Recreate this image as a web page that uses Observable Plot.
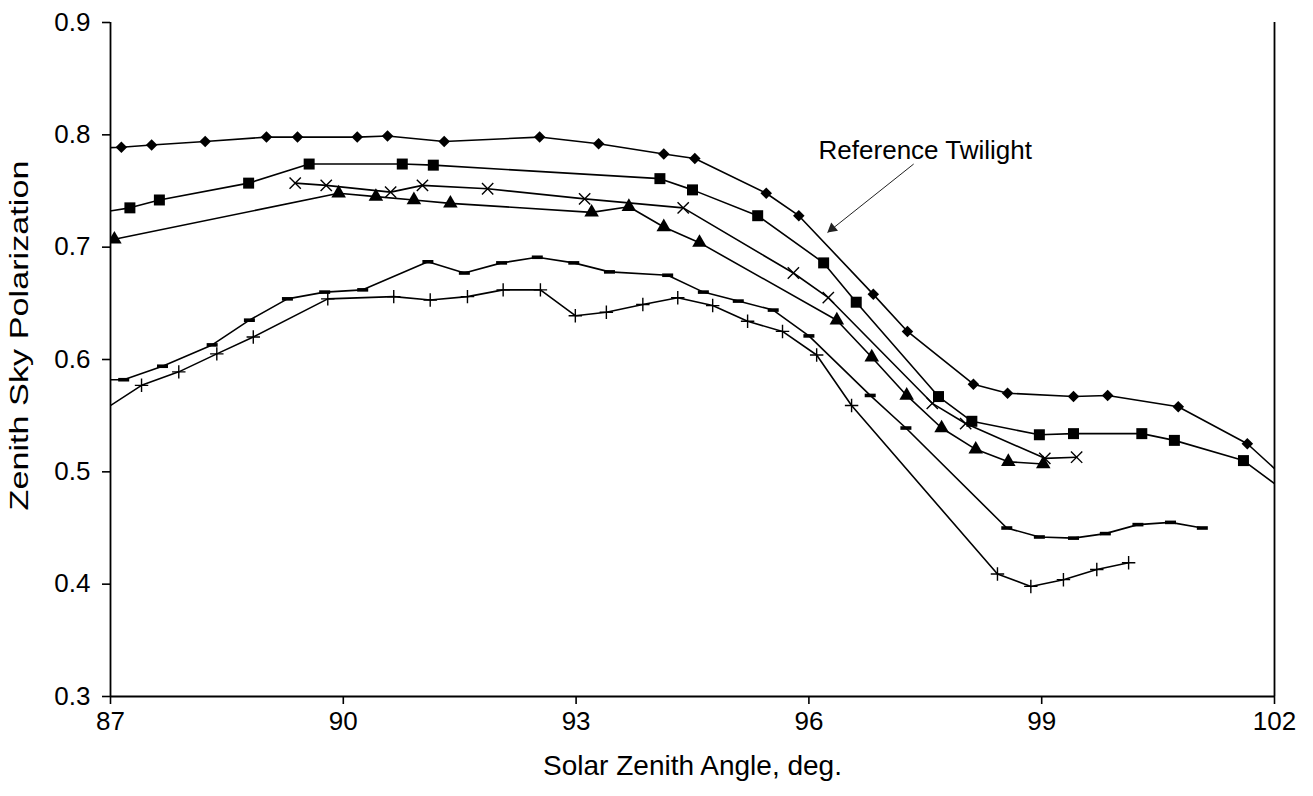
<!DOCTYPE html>
<html>
<head>
<meta charset="utf-8">
<script src="https://cdn.jsdelivr.net/npm/d3@7"></script>
<script src="https://cdn.jsdelivr.net/npm/@observablehq/plot@0.6"></script>
<style>
  html, body { margin: 0; padding: 0; background: #fff; }
  #chart svg { display: block; }
</style>
</head>
<body>
<div id="chart"></div>
<script>
// ---- data ----
const xTicks = [87, 90, 93, 96, 99, 102];
const yTicks = [0.3, 0.4, 0.5, 0.6, 0.7, 0.8, 0.9];

const diamondX = [86.8, 87.14, 87.53, 88.22, 89.01, 89.41, 90.18, 90.57, 91.30, 92.53, 93.29, 94.13, 94.53, 95.45, 95.87, 96.83, 97.27, 98.12, 98.56, 99.41, 99.85, 100.76, 101.65, 102.3];
const diamondY = [0.788, 0.789, 0.791, 0.794, 0.798, 0.798, 0.798, 0.799, 0.794, 0.798, 0.792, 0.783, 0.779, 0.748, 0.728, 0.658, 0.625, 0.578, 0.570, 0.567, 0.568, 0.558, 0.525, 0.484];

const squareX = [86.8, 87.25, 87.63, 88.78, 89.56, 90.76, 91.16, 94.08, 94.50, 95.34, 96.19, 96.61, 97.67, 98.10, 98.97, 99.41, 100.29, 100.71, 101.60, 102.3];
const squareY = [0.730, 0.735, 0.742, 0.757, 0.774, 0.774, 0.773, 0.761, 0.751, 0.728, 0.686, 0.651, 0.567, 0.545, 0.533, 0.534, 0.534, 0.528, 0.510, 0.474];

const crossX = [89.38, 89.78, 90.61, 91.02, 91.86, 93.11, 94.38, 95.80, 96.25, 97.59, 98.02, 99.04, 99.45];
const crossY = [0.757, 0.755, 0.749, 0.755, 0.752, 0.743, 0.735, 0.677, 0.655, 0.561, 0.543, 0.512, 0.513];

const triangleX = [87.05, 89.94, 90.42, 90.91, 91.38, 93.20, 93.68, 94.13, 94.59, 96.36, 96.81, 97.26, 97.71, 98.15, 98.57, 99.02];
const triangleY = [0.707, 0.748, 0.745, 0.742, 0.739, 0.731, 0.736, 0.718, 0.704, 0.635, 0.602, 0.568, 0.539, 0.520, 0.509, 0.507];

const dashX = [86.8, 87.17, 87.67, 88.31, 88.79, 89.28, 89.76, 90.25, 91.09, 91.56, 92.04, 92.50, 92.97, 93.43, 94.18, 94.64, 95.09, 95.54, 96.00, 96.79, 97.25, 98.55, 98.97, 99.41, 99.82, 100.24, 100.66, 101.07];
const dashY = [0.582, 0.582, 0.594, 0.613, 0.635, 0.654, 0.660, 0.662, 0.687, 0.677, 0.686, 0.691, 0.686, 0.678, 0.675, 0.660, 0.652, 0.644, 0.621, 0.568, 0.539, 0.450, 0.442, 0.441, 0.445, 0.453, 0.455, 0.450];

const plusX = [86.8, 87.40, 87.88, 88.37, 88.84, 89.80, 90.65, 91.12, 91.60, 92.06, 92.54, 92.99, 93.39, 93.86, 94.31, 94.76, 95.21, 95.66, 96.10, 96.55, 98.43, 98.86, 99.28, 99.71, 100.12];
const plusY = [0.550, 0.577, 0.589, 0.605, 0.620, 0.654, 0.656, 0.653, 0.656, 0.662, 0.662, 0.639, 0.642, 0.649, 0.655, 0.648, 0.634, 0.625, 0.604, 0.559, 0.409, 0.398, 0.404, 0.413, 0.419];

const annotationText = ["Reference Twilight"];
const annotationX = [97.50];
const annotationY = [0.786];
const arrowX1 = [97.35], arrowY1 = [0.774];
const arrowX2 = [96.24], arrowY2 = [0.713];
const arrowHeadX = [96.30], arrowHeadY = [0.7166];

const xLabel = "Solar Zenith Angle, deg.";
const yLabel = "Zenith Sky Polarization";

// ---- build tables ----
const toRows = (xs, ys) => xs.map((x, i) => ({x, y: ys[i]}));
const dashSymbol = { draw(ctx, size) { ctx.rect(-5.5, -1.8, 11, 3.6); } };

const series = [
  {rows: toRows(diamondX, diamondY), symbol: "diamond2", r: 5.2, fill: "black", stroke: "none"},
  {rows: toRows(squareX, squareY), symbol: "square", r: 6.2, fill: "black", stroke: "none"},
  {rows: toRows(crossX, crossY), symbol: "times", r: 5.2, fill: "none", stroke: "black"},
  {rows: toRows(triangleX, triangleY), symbol: "triangle", r: 5.4, fill: "black", stroke: "none"},
  {rows: toRows(dashX, dashY), symbol: dashSymbol, r: 4, fill: "black", stroke: "none"},
  {rows: toRows(plusX, plusY), symbol: "plus", r: 4.4, fill: "none", stroke: "black"}
];

const marks = [];
for (const s of series) {
  marks.push(Plot.line(s.rows, {x: "x", y: "y", stroke: "black", strokeWidth: 1.6, clip: true}));
}
for (const s of series) {
  marks.push(Plot.dot(s.rows, {x: "x", y: "y", symbol: () => s.symbol, r: s.r, fill: s.fill, stroke: s.stroke, strokeWidth: 1.4, clip: true}));
}

const annoRows = annotationText.map((t, i) => ({t, x: annotationX[i], y: annotationY[i]}));
const arrowRows = arrowX1.map((v, i) => ({x1: v, y1: arrowY1[i], x2: arrowX2[i], y2: arrowY2[i], hx: arrowHeadX[i], hy: arrowHeadY[i]}));

const chart = Plot.plot({
  width: 1313,
  height: 796,
  marginLeft: 110,
  marginRight: 39,
  marginTop: 22,
  marginBottom: 100,
  style: {fontFamily: "'Liberation Sans', Arial, sans-serif", color: "black", background: "white"},
  x: {domain: [87, 102]},
  y: {domain: [0.3, 0.9]},
  marks: [
    Plot.axisX({ticks: xTicks, tickSize: 8, tickPadding: 7, fontSize: 26, strokeWidth: 1.6,
      label: null}),
    Plot.axisY({ticks: yTicks, tickSize: 8, tickPadding: 12, fontSize: 26, strokeWidth: 1.6,
      tickFormat: d3.format(".1f"), label: null}),
    Plot.axisX({ticks: [], tickSize: 0, fontSize: 28, label: xLabel, labelAnchor: "center", labelArrow: "none", labelOffset: 78}),
    Plot.axisY({ticks: [], tickSize: 0, fontSize: 26, label: yLabel, labelAnchor: "center", labelArrow: "none", labelOffset: 101}),
    Plot.ruleX([87], {stroke: "black", strokeWidth: 1.8}),
    Plot.ruleX([102], {stroke: "black", strokeWidth: 1.8}),
    Plot.ruleY([0.3], {stroke: "black", strokeWidth: 1.8}),
    ...marks,
    Plot.text(annoRows, {x: "x", y: "y", text: "t", fontSize: 26, fill: "black"}),
    Plot.link(arrowRows, {x1: "x1", y1: "y1", x2: "x2", y2: "y2", stroke: "#222", strokeWidth: 1}),
    Plot.dot(arrowRows, {x: "hx", y: "hy", symbol: "triangle", r: 4, rotate: 231, fill: "#222", stroke: "none"})
  ]
});
// stretch the rotated y title along its length to match the reference extent
const yTitle = chart.querySelector('g[aria-label="y-axis label"] text');
if (yTitle) {
  yTitle.setAttribute("textLength", 350);
  yTitle.setAttribute("lengthAdjust", "spacingAndGlyphs");
  yTitle.setAttribute("dx", 24);
}
document.getElementById("chart").appendChild(chart);
</script>
</body>
</html>
